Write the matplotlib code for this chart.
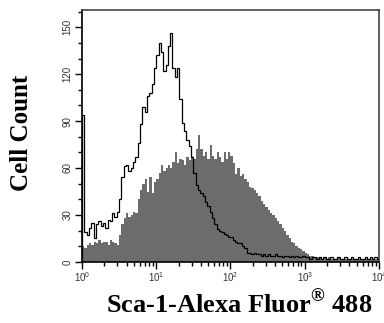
import numpy as np
import matplotlib
matplotlib.use("Agg")
from matplotlib import pyplot as plt
from matplotlib.ticker import MultipleLocator, LogLocator, NullFormatter

plt.rcParams['font.family'] = ['Liberation Sans', 'DejaVu Sans']
plt.rcParams['mathtext.fontset'] = 'custom'
plt.rcParams['mathtext.rm'] = 'Liberation Serif:bold'

# histogram channels: 32 per decade, 10^0 .. 10^4
bins_per_decade = 32

# Sca-1 stained sample (filled grey)
sca1 = [10, 9, 11, 12, 11, 13, 12, 14, 12, 13, 13, 11, 14, 13, 12, 11,
        17, 24, 28, 31, 29, 30, 32, 31, 40, 46, 50, 53, 45, 54, 44, 51,
        53, 57, 62, 58, 60, 62, 60, 64, 70, 63, 66, 65, 62, 67, 65, 68,
        66, 72, 81, 72, 68, 70, 66, 75, 68, 66, 70, 67, 64, 70, 66, 70,
        68, 63, 56, 60, 55, 56, 53, 51, 48, 47, 46, 44, 42, 39, 37, 35,
        33, 31, 30, 28, 26, 24, 22, 20, 17, 15, 13, 12, 10, 9, 8, 7,
        6, 5, 4, 4, 3, 3, 3, 2, 3, 2, 3, 2, 2, 2, 3, 2,
        2, 2, 2, 1, 2, 2, 1, 2, 2, 1, 2, 1, 2, 1, 2, 1]

# control sample (open black line)
control = [94, 19, 17, 22, 25, 15, 24, 26, 23, 25, 22, 27, 26, 31, 29, 32,
           40, 54, 61, 62, 58, 60, 64, 67, 76, 88, 99, 96, 106, 108, 114, 124,
           132, 140, 134, 122, 126, 138, 146, 124, 118, 124, 104, 89, 84, 78, 74, 67,
           57, 49, 46, 44, 42, 38, 36, 32, 28, 24, 21, 20, 19, 18, 17, 16,
           16, 14, 13, 12, 12, 10, 9, 6, 6, 5, 6, 5, 5, 4, 5, 4,
           5, 4, 4, 5, 4, 4, 3, 4, 4, 3, 4, 3, 4, 3, 3, 4,
           3, 3, 2, 3, 3, 2, 3, 2, 3, 2, 2, 3, 2, 2, 3, 2,
           2, 3, 2, 2, 3, 2, 2, 3, 2, 2, 3, 2, 3, 2, 3, 2]

edges = 10 ** (np.arange(len(sca1) + 1) / bins_per_decade)

fig = plt.figure(figsize=(3.84, 3.23), dpi=100)
ax = fig.add_axes([0.2135, 0.189, 0.7735, 0.780])

ax.stairs(sca1, edges, fill=True, color='#6c6c6c', lw=0)
ax.stairs(control, edges, color='black', lw=0.9, zorder=3)

ax.set_xscale('log')
ax.set_xlim(1, 1e4)
ax.set_ylim(0, 161)

ax.yaxis.set_major_locator(MultipleLocator(30))
ax.yaxis.set_minor_locator(MultipleLocator(10))
ax.xaxis.set_major_locator(LogLocator(base=10, numticks=10))
ax.xaxis.set_minor_locator(LogLocator(base=10, subs=np.arange(2, 10), numticks=10))
ax.xaxis.set_minor_formatter(NullFormatter())

ax.tick_params(axis='both', which='major', direction='out', length=5, width=1,
               labelsize=7, colors='black', labelcolor='#333333')
ax.tick_params(axis='both', which='minor', direction='out', length=3, width=1)
ax.tick_params(axis='x', pad=1)
ax.tick_params(axis='y', pad=2)
for lab in ax.get_yticklabels():
    lab.set_rotation(90)
    lab.set_va('center')

for s in ax.spines.values():
    s.set_linewidth(1.2)
ax.spines['top'].set_color('#444444')
ax.spines['right'].set_color('#444444')

ax.set_ylabel('Cell Count', family='Liberation Serif', weight='bold', fontsize=18,
              va='center')
ax.yaxis.set_label_coords(-0.202, 0.512)
ax.set_xlabel('Sca-1-Alexa Fluor$^{\u00ae}$ 488', family='Liberation Serif',
              weight='bold', fontsize=19, va='center')
ax.xaxis.set_label_coords(0.529, -0.167)

fig.savefig('out.png', dpi=100)
